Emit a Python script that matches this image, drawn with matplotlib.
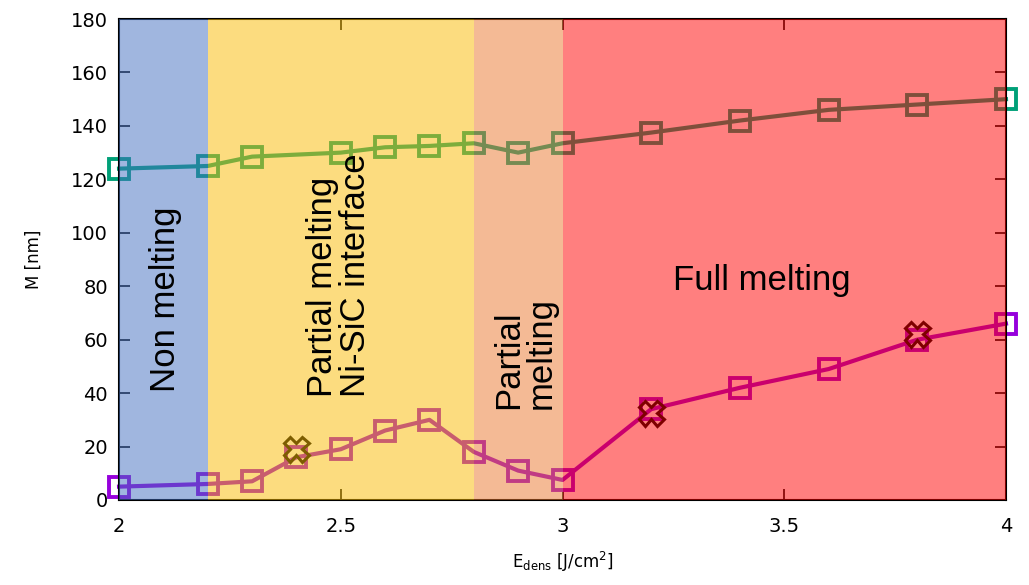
import matplotlib.pyplot as plt
from matplotlib.patches import Rectangle

# energy density values (J/cm^2)
E_top = [2.0, 2.2, 2.3, 2.5, 2.6, 2.7, 2.8, 2.9, 3.0, 3.2, 3.4, 3.6, 3.8, 4.0]
M_top = [124, 125, 128.5, 130, 132, 132.5, 133.5, 130, 133.5, 137.5, 142, 146, 148, 150]

E_low = [2.0, 2.2, 2.3, 2.4, 2.5, 2.6, 2.7, 2.8, 2.9, 3.0, 3.2, 3.4, 3.6, 3.8, 4.0]
M_low = [5, 6, 7, 16, 19, 26, 30, 18, 11, 7.5, 34, 42, 49, 60, 66]

E_cross = [2.4, 3.2, 3.8]
M_cross = [19, 32.5, 62]

# regimes: start, end, colour
regions = [(2.0, 2.2, '#436fc1'),
           (2.2, 2.8, '#fbbb01'),
           (2.8, 3.0, '#eb772d'),
           (3.0, 4.0, '#ff0000')]

fig = plt.figure(figsize=(10.29, 5.85), dpi=100)
ax = fig.add_axes([0.1157, 0.1453, 0.8619, 0.8222])

ax.plot(E_top, M_top, '-s', color='#00a078', lw=3, ms=15, mfc='none', mew=2.8,
        clip_on=False, zorder=2)
ax.plot(E_low, M_low, '-s', color='#9600dc', lw=3, ms=15, mfc='none', mew=2.8,
        clip_on=False, zorder=2)
ax.plot(E_cross, M_cross, 'X', color='black', ms=18, mfc='none', mew=2.2,
        clip_on=False, zorder=2)

# coloured bands drawn on top with transparency (as in the original)
for x0, x1, c in regions:
    ax.add_patch(Rectangle((x0, 0), x1 - x0, 180, facecolor=c, alpha=0.5,
                           edgecolor='none', zorder=3))

ax.set_xlim(2, 4)
ax.set_ylim(0, 180)
ax.set_xticks([2, 2.5, 3, 3.5, 4])
ax.set_xticklabels(['2', '2.5', '3', '3.5', '4'])
ax.set_yticks(range(0, 181, 20))
ax.tick_params(direction='in', top=True, right=True, length=8, width=1.2,
               labelsize=14)
ax.tick_params(axis='x', pad=12)
ax.tick_params(axis='y', pad=8)
for s in ax.spines.values():
    s.set_linewidth(1.5)

ax.set_xlabel(r'E$_{\mathrm{dens}}$ [J/cm$^{2}$]', fontsize=12, labelpad=10)
ax.set_ylabel('M [nm]', fontsize=12, labelpad=20)

tf = dict(family='Liberation Sans', fontsize=25, color='black', zorder=5,
          ha='center', va='center')
ax.text(2.104, 75, 'Non melting', rotation=90, **tf)
ax.text(2.495, 84, 'Partial melting\nNi-SiC interface', rotation=90,
        linespacing=1.0, multialignment='left', **tf)
ax.text(2.915, 55, 'Partial\nmelting', rotation=90, linespacing=1.0,
        multialignment='left', **tf)
ax.text(3.45, 82, 'Full melting', **tf)

plt.savefig('out.png')
